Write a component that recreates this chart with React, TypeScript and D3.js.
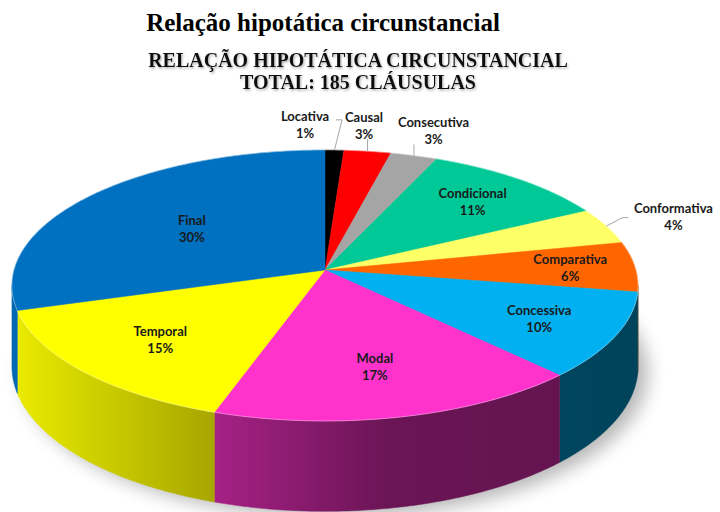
import * as d3 from "d3";

const categories = [
  "Locativa",
  "Causal",
  "Consecutiva",
  "Condicional",
  "Conformativa",
  "Comparativa",
  "Concessiva",
  "Modal",
  "Temporal",
  "Final",
];
// number of clauses per category (total 185)
const counts = [2, 5, 5, 20, 8, 11, 19, 32, 28, 55];
const sliceColors = [
  "#000000",
  "#FF0000",
  "#A5A5A5",
  "#00C896",
  "#FFFF66",
  "#FF6600",
  "#00B0F0",
  "#FF33CC",
  "#FFFF00",
  "#0070C0",
];

const W = 720;
const H = 512;

// perspective pie geometry
const CX = 325;
const CY = 270;
const A = 311;
const B = 133.7;
const K = 0.1144;
const DEPTH = 80;

const project = (t: number, r = 1): [number, number] => {
  const u = r * Math.sin(t);
  const v = r * Math.cos(t);
  const w = 1 + K * v;
  return [CX + (A * u) / w, CY - (B * v) / w];
};
const projectBottom = (t: number): [number, number] => {
  const [x, y] = project(t);
  const w = 1 + K * Math.cos(t);
  return [x, y + DEPTH / w];
};
const arcPts = (a0: number, a1: number, f = project) => {
  const n = Math.max(2, Math.ceil(Math.abs(a1 - a0) / 0.01));
  return d3.range(n + 1).map((i) => f(a0 + ((a1 - a0) * i) / n));
};

const total = d3.sum(counts);
const arcs = d3.pie<number>().sort(null)(counts);
const line = d3.line();

const S0 = Math.acos(-K);
const S1 = 2 * Math.PI - S0;

const shade = (c: string, f: number) => {
  const q = d3.rgb(c);
  return d3.rgb(q.r * f, q.g * f, q.b * f).formatHex();
};

const labelFont = "Lato, 'Open Sans', sans-serif";

export default function App() {
  const labels = arcs.map((a, i) => {
    const mid = (a.startAngle + a.endAngle) / 2;
    const share = counts[i] / total;
    const pct = Math.round(share * 100);
    const outside = pct < 5;
    // bigger slices get their label nearer the centre
    const [x, y] = project(mid, outside ? 1.25 : 0.85 - share);
    const edge = project(mid, 1);
    const halfW = Math.max(categories[i].length * 3.5, 12);
    return { i, x, y, outside, edge, pct, halfW };
  });
  // push crowded outside labels apart (right to left)
  const outs = labels.filter((l) => l.outside).sort((p, q) => q.x - p.x);
  for (let j = 1; j < outs.length; j++) {
    const prev = outs[j - 1];
    const cur = outs[j];
    const minGap = prev.halfW + cur.halfW + 10;
    if (Math.abs(prev.y - cur.y) < 30 && prev.x - cur.x < minGap) {
      cur.x = prev.x - minGap;
    }
  }

  return (
    <svg
      width={W}
      height={H}
      style={{ position: "absolute", left: 0, top: 0, background: "#fff" }}
    >
      <defs>
        <filter id="blur" x="-20%" y="-20%" width="140%" height="140%">
          <feGaussianBlur stdDeviation="9" />
        </filter>
        <filter id="tshadow" x="-5%" y="-20%" width="110%" height="140%">
          <feDropShadow dx="1" dy="1.5" stdDeviation="0.8" floodColor="#777" floodOpacity="0.6" />
        </filter>
        {sliceColors.map((c, i) => (
          <linearGradient
            key={i}
            id={`side${i}`}
            gradientUnits="userSpaceOnUse"
            x1={CX - A}
            x2={CX + A}
            y1={0}
            y2={0}
          >
            <stop offset="0" stopColor={shade(c, 0.92)} />
            <stop offset="0.6" stopColor={shade(c, 0.42)} />
            <stop offset="1" stopColor={shade(c, 0.38)} />
          </linearGradient>
        ))}
      </defs>

      <text
        x={323}
        y={31}
        textAnchor="middle"
        fontFamily="'Liberation Serif', serif"
        fontWeight="bold"
        fontSize={25}
        fill="#000"
      >
        Relação hipotática circunstancial
      </text>
      <g
        fontFamily="'Liberation Serif', serif"
        fontWeight="bold"
        fontSize={20}
        fill="#111"
        textAnchor="middle"
        filter="url(#tshadow)"
      >
        <text x={358} y={67}>RELAÇÃO HIPOTÁTICA CIRCUNSTANCIAL</text>
        <text x={358} y={89}>TOTAL: 185 CLÁUSULAS</text>
      </g>

      {/* soft shadow under the pie */}
      <path
        d={line(arcPts(0, 2 * Math.PI, projectBottom).map(([x, y]) => [x + 10, y + 6]))! + "Z"}
        fill="#000"
        opacity={0.28}
        filter="url(#blur)"
      />

      {/* side walls */}
      {arcs.map((a, i) => {
        const s0 = Math.max(a.startAngle, S0);
        const s1 = Math.min(a.endAngle, S1);
        if (s1 <= s0) return null;
        const pts = [...arcPts(s0, s1), ...arcPts(s1, s0, projectBottom)];
        return (
          <path
            key={`s${i}`}
            d={line(pts)! + "Z"}
            fill={`url(#side${i})`}
            stroke={`url(#side${i})`}
            strokeWidth={0.5}
          />
        );
      })}

      {/* top surface */}
      {arcs.map((a, i) => {
        const pts: [number, number][] = [[CX, CY], ...arcPts(a.startAngle, a.endAngle)];
        return (
          <path
            key={`t${i}`}
            d={line(pts)! + "Z"}
            fill={sliceColors[i]}
            stroke={sliceColors[i]}
            strokeWidth={0.5}
          />
        );
      })}
      <path
        d={line(arcPts(0, 2 * Math.PI))! + "Z"}
        fill="none"
        stroke="#fff"
        strokeOpacity={0.35}
        strokeWidth={1}
      />

      {/* leader lines */}
      {labels
        .filter((l) => l.outside)
        .map((l) => {
          const [ex, ey] = l.edge;
          let pts: [number, number][];
          if (l.x > ex + 20) {
            const ax = l.x - l.halfW - 3;
            pts = [[ex, ey], [ax - 6, l.y + 2], [ax, l.y + 2]];
          } else if (l.x < ex - 20) {
            const ax = l.x + l.halfW + 3;
            pts = [[ex, ey], [ax + 6, l.y - 4], [ax, l.y - 4]];
          } else {
            pts = [[ex, ey], [ex, l.y + 14]];
          }
          return (
            <path key={`l${l.i}`} d={line(pts)!} fill="none" stroke="#A6A6A6" strokeWidth={1} />
          );
        })}

      {/* data labels */}
      <g fontFamily={labelFont} fontWeight="bold" fontSize={13} fill="#1a1a1a" textAnchor="middle">
        {labels.map((l) => (
          <text key={`x${l.i}`} x={l.x} y={l.y - 3}>
            <tspan x={l.x} dy={0}>
              {categories[l.i]}
            </tspan>
            <tspan x={l.x} dy={17}>
              {l.pct}%
            </tspan>
          </text>
        ))}
      </g>
    </svg>
  );
}
